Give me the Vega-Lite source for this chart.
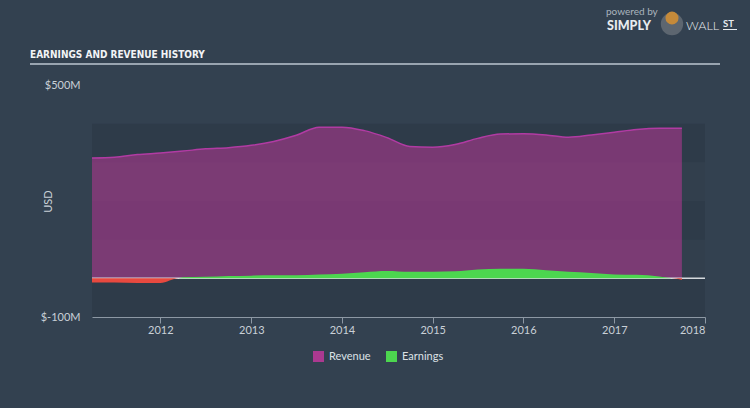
{
  "$schema": "https://vega.github.io/schema/vega-lite/v6.json",
  "width": 613,
  "height": 232,
  "autosize": {"type": "none"},
  "padding": {"left": 92, "top": 85, "right": 45, "bottom": 91},
  "background": "#334150",
  "config": {"view": {"stroke": null}, "font": "Lato"},
  "datasets": {
    "bands": [
      {"tone": "dark", "date": "2011-04-01T00:00", "date2": "2018-01-01T00:00", "v": -100, "v2": 0},
      {"tone": "light", "date": "2011-04-01T00:00", "date2": "2018-01-01T00:00", "v": 0, "v2": 100},
      {"tone": "dark", "date": "2011-04-01T00:00", "date2": "2018-01-01T00:00", "v": 100, "v2": 200},
      {"tone": "light", "date": "2011-04-01T00:00", "date2": "2018-01-01T00:00", "v": 200, "v2": 300},
      {"tone": "dark", "date": "2011-04-01T00:00", "date2": "2018-01-01T00:00", "v": 300, "v2": 400}
    ],
    "rev": [
      {"date": "2011-04-01T00:00", "v": 311},
      {"date": "2011-07-01T00:00", "v": 313},
      {"date": "2011-10-01T00:00", "v": 320},
      {"date": "2012-01-01T00:00", "v": 324},
      {"date": "2012-04-01T00:00", "v": 329},
      {"date": "2012-07-01T00:00", "v": 335},
      {"date": "2012-10-01T00:00", "v": 338},
      {"date": "2013-01-01T00:00", "v": 344},
      {"date": "2013-04-01T00:00", "v": 354},
      {"date": "2013-07-01T00:00", "v": 370},
      {"date": "2013-10-01T00:00", "v": 391},
      {"date": "2014-01-01T00:00", "v": 391},
      {"date": "2014-04-01T00:00", "v": 382},
      {"date": "2014-07-01T00:00", "v": 364},
      {"date": "2014-10-01T00:00", "v": 341},
      {"date": "2015-01-01T00:00", "v": 339},
      {"date": "2015-04-01T00:00", "v": 346},
      {"date": "2015-07-01T00:00", "v": 362},
      {"date": "2015-10-01T00:00", "v": 373},
      {"date": "2016-01-01T00:00", "v": 374},
      {"date": "2016-04-01T00:00", "v": 371},
      {"date": "2016-07-01T00:00", "v": 365},
      {"date": "2016-10-01T00:00", "v": 371},
      {"date": "2017-01-01T00:00", "v": 378},
      {"date": "2017-04-01T00:00", "v": 385},
      {"date": "2017-07-01T00:00", "v": 388},
      {"date": "2017-09-30T00:00", "v": 388}
    ],
    "earn": [
      {"date": "2011-04-01T00:00", "v": -11},
      {"date": "2011-07-01T00:00", "v": -11},
      {"date": "2011-10-01T00:00", "v": -12},
      {"date": "2012-01-01T00:00", "v": -12},
      {"date": "2012-03-15T00:00", "v": 0},
      {"date": "2012-04-01T00:00", "v": 3},
      {"date": "2012-07-01T00:00", "v": 4},
      {"date": "2012-10-01T00:00", "v": 6},
      {"date": "2013-01-01T00:00", "v": 7},
      {"date": "2013-04-01T00:00", "v": 8},
      {"date": "2013-07-01T00:00", "v": 8},
      {"date": "2013-10-01T00:00", "v": 10},
      {"date": "2014-01-01T00:00", "v": 12},
      {"date": "2014-04-01T00:00", "v": 16},
      {"date": "2014-07-01T00:00", "v": 19},
      {"date": "2014-10-01T00:00", "v": 17},
      {"date": "2015-01-01T00:00", "v": 17},
      {"date": "2015-04-01T00:00", "v": 18},
      {"date": "2015-07-01T00:00", "v": 23},
      {"date": "2015-10-01T00:00", "v": 25},
      {"date": "2016-01-01T00:00", "v": 25},
      {"date": "2016-04-01T00:00", "v": 21},
      {"date": "2016-07-01T00:00", "v": 17},
      {"date": "2016-10-01T00:00", "v": 14},
      {"date": "2017-01-01T00:00", "v": 10},
      {"date": "2017-04-01T00:00", "v": 9},
      {"date": "2017-07-01T00:00", "v": 5},
      {"date": "2017-08-20T00:00", "v": 0},
      {"date": "2017-09-30T00:00", "v": -4}
    ]
  },
  "encoding": {
    "x": {"field": "date", "type": "temporal",
      "scale": {"domain": [{"year": 2011, "month": 4, "date": 1}, {"year": 2018, "month": 1, "date": 1}]},
      "axis": {"title": null, "format": "%Y", "tickCount": {"interval": "year", "step": 1}, "grid": false,
        "domainColor": "#8d98a4", "tickColor": "#8d98a4", "tickSize": 6, "labelColor": "#c9d0d7",
        "labelFontSize": 11, "labelPadding": 1, "labelFont": "Lato"}},
    "y": {"field": "v", "type": "quantitative", "stack": null,
      "scale": {"domain": [-100, 500], "nice": false, "zero": false},
      "axis": {"title": "USD", "values": [-100, 500], "labelExpr": "'$' + datum.value + 'M'",
        "grid": false, "domain": false, "ticks": false, "labelPadding": 12, "labelColor": "#c9d0d7",
        "labelFontSize": 11, "labelFont": "Lato", "titleColor": "#c9d0d7", "titleFontSize": 11,
        "titleFontWeight": "normal", "titleFont": "Lato", "titleX": -44, "titleY": 116,
        "titleAlign": "center", "titleBaseline": "middle", "titleAngle": -90}}
  },
  "layer": [
    {
      "data": {"name": "bands"},
      "transform": [{"filter": "datum.tone == 'dark'"}],
      "mark": {"type": "rect", "color": "#2e3b49"},
      "encoding": {"x2": {"field": "date2"}, "y2": {"field": "v2"}}
    },
    {
      "data": {"name": "bands"},
      "transform": [{"filter": "datum.tone == 'light'"}],
      "mark": {"type": "rect", "color": "#323f4d"},
      "encoding": {"x2": {"field": "date2"}, "y2": {"field": "v2"}}
    },
    {
      "data": {"name": "rev"},
      "mark": {"type": "area", "interpolate": "monotone", "fillOpacity": 0.6},
      "encoding": {
        "color": {"datum": "Revenue", "type": "nominal",
          "scale": {"domain": ["Revenue", "Earnings"], "range": ["#ab3990", "#4cd64f"]},
          "legend": {"title": null, "orient": "none", "legendX": 221, "legendY": 266, "direction": "horizontal",
            "symbolType": "square", "symbolSize": 121, "symbolOpacity": 1, "symbolStrokeWidth": 0,
            "labelColor": "#dde2e6", "labelFontSize": 11, "labelFont": "Lato", "labelOffset": 5, "columnPadding": 15}}
      }
    },
    {
      "data": {"name": "rev"},
      "mark": {"type": "line", "interpolate": "monotone", "color": "#b13ba3", "strokeWidth": 1.5}
    },
    {
      "data": {"name": "bands"},
      "transform": [{"filter": "datum.v == 0"}],
      "mark": {"type": "rule", "color": "#d5d9dd", "strokeWidth": 1.5},
      "encoding": {"x2": {"field": "date2"}}
    },
    {
      "data": {"name": "earn"},
      "transform": [{"filter": "datum.v >= 0"}],
      "mark": {"type": "area", "interpolate": "monotone", "opacity": 1},
      "encoding": {
        "color": {"datum": "Earnings", "type": "nominal",
          "legend": {"title": null, "orient": "none", "legendX": 221, "legendY": 266, "direction": "horizontal",
            "symbolType": "square", "symbolSize": 121, "symbolOpacity": 1, "symbolStrokeWidth": 0,
            "labelColor": "#dde2e6", "labelFontSize": 11, "labelFont": "Lato", "labelOffset": 5, "columnPadding": 15}}
      }
    },
    {
      "data": {"name": "earn"},
      "transform": [{"filter": "datum.v <= 0"}],
      "mark": {"type": "area", "interpolate": "monotone", "color": "#e8493f"}
    },
    {
      "data": {"values": [{}]},
      "mark": {"type": "text", "text": "EARNINGS AND REVENUE HISTORY", "font": "DejaVu Sans Condensed, Roboto, sans-serif", "fontWeight": "bold", "fontSize": 10, "color": "#f2f4f6", "align": "left", "baseline": "alphabetic"},
      "encoding": {"x": {"value": -62}, "y": {"value": -27}}
    },
    {
      "data": {"values": [{}]},
      "mark": {"type": "rule", "color": "#bcc6d0", "strokeWidth": 1.5},
      "encoding": {"x": {"value": -62}, "x2": {"value": 628}, "y": {"value": -21}}
    },
    {
      "data": {"values": [{}]},
      "mark": {"type": "text", "text": "powered by", "font": "Lato", "fontSize": 10, "color": "#aab4be", "align": "left", "baseline": "alphabetic"},
      "encoding": {"x": {"value": 514}, "y": {"value": -70}}
    },
    {
      "data": {"values": [{}]},
      "mark": {"type": "text", "text": "SIMPLY", "font": "Lato", "fontWeight": 900, "fontSize": 12.5, "color": "#e8ecef", "align": "left", "baseline": "alphabetic"},
      "encoding": {"x": {"value": 515}, "y": {"value": -55.5}}
    },
    {
      "data": {"values": [{}]},
      "mark": {"type": "point", "filled": true, "shape": "circle", "size": 500, "color": "#5d6670", "opacity": 1},
      "encoding": {"x": {"value": 580}, "y": {"value": -61}}
    },
    {
      "data": {"values": [{}]},
      "mark": {"type": "point", "filled": true, "shape": "circle", "size": 170, "color": "#c58a3a", "opacity": 1},
      "encoding": {"x": {"value": 580}, "y": {"value": -67}}
    },
    {
      "data": {"values": [{}]},
      "mark": {"type": "text", "text": "WALL", "font": "Lato", "fontWeight": 300, "fontSize": 12.5, "color": "#e8ecef", "align": "left", "baseline": "alphabetic"},
      "encoding": {"x": {"value": 594}, "y": {"value": -55.5}}
    },
    {
      "data": {"values": [{}]},
      "mark": {"type": "text", "text": "ST", "font": "Lato", "fontWeight": "bold", "fontSize": 9.5, "color": "#e8ecef", "align": "left", "baseline": "alphabetic"},
      "encoding": {"x": {"value": 631}, "y": {"value": -58}}
    },
    {
      "data": {"values": [{}]},
      "mark": {"type": "rule", "color": "#e8ecef", "strokeWidth": 1},
      "encoding": {"x": {"value": 631}, "x2": {"value": 645}, "y": {"value": -55.5}}
    }
  ]
}
